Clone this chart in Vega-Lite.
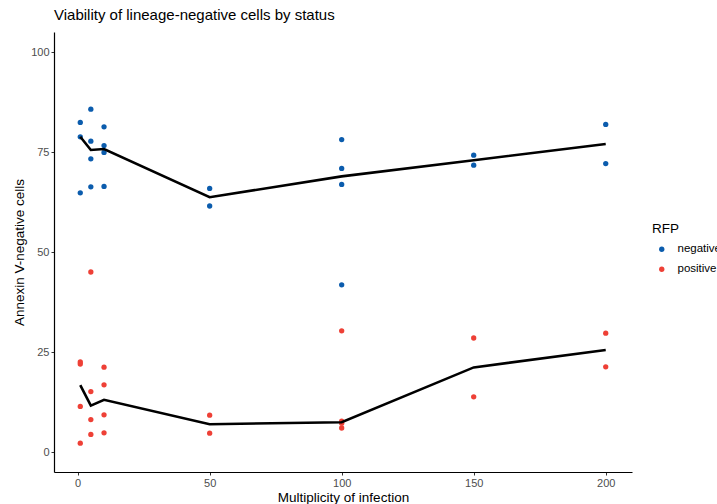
{
  "$schema": "https://vega.github.io/schema/vega-lite/v6.json",
  "autosize": "none",
  "padding": {"left": 54, "top": 32, "right": 85, "bottom": 32},
  "width": 578,
  "height": 440,
  "background": "white",
  "title": {
    "text": "Viability of lineage-negative cells by status",
    "anchor": "start",
    "frame": "group",
    "offset": 9,
    "font": "Liberation Sans",
    "fontSize": 15,
    "fontWeight": "normal",
    "color": "black"
  },
  "config": {
    "view": {"stroke": null},
    "font": "Liberation Sans"
  },
  "data": {
    "values": [
      {"moi": 1, "rfp": "negative", "v": 82.4},
      {"moi": 1, "rfp": "negative", "v": 78.8},
      {"moi": 1, "rfp": "negative", "v": 64.8},
      {"moi": 5, "rfp": "negative", "v": 85.7},
      {"moi": 5, "rfp": "negative", "v": 77.7},
      {"moi": 5, "rfp": "negative", "v": 73.3},
      {"moi": 5, "rfp": "negative", "v": 66.3},
      {"moi": 10, "rfp": "negative", "v": 81.3},
      {"moi": 10, "rfp": "negative", "v": 76.6},
      {"moi": 10, "rfp": "negative", "v": 74.9},
      {"moi": 10, "rfp": "negative", "v": 66.4},
      {"moi": 50, "rfp": "negative", "v": 65.9},
      {"moi": 50, "rfp": "negative", "v": 61.5},
      {"moi": 100, "rfp": "negative", "v": 78.1},
      {"moi": 100, "rfp": "negative", "v": 70.9},
      {"moi": 100, "rfp": "negative", "v": 66.9},
      {"moi": 100, "rfp": "negative", "v": 41.8},
      {"moi": 150, "rfp": "negative", "v": 74.2},
      {"moi": 150, "rfp": "negative", "v": 71.7},
      {"moi": 200, "rfp": "negative", "v": 81.9},
      {"moi": 200, "rfp": "negative", "v": 72.1},
      {"moi": 1, "rfp": "positive", "v": 22.5},
      {"moi": 1, "rfp": "positive", "v": 22.0},
      {"moi": 1, "rfp": "positive", "v": 11.4},
      {"moi": 1, "rfp": "positive", "v": 2.2},
      {"moi": 5, "rfp": "positive", "v": 45.0},
      {"moi": 5, "rfp": "positive", "v": 15.1},
      {"moi": 5, "rfp": "positive", "v": 8.1},
      {"moi": 5, "rfp": "positive", "v": 4.4},
      {"moi": 10, "rfp": "positive", "v": 21.2},
      {"moi": 10, "rfp": "positive", "v": 16.8},
      {"moi": 10, "rfp": "positive", "v": 9.3},
      {"moi": 10, "rfp": "positive", "v": 4.8},
      {"moi": 50, "rfp": "positive", "v": 9.2},
      {"moi": 50, "rfp": "positive", "v": 4.7},
      {"moi": 100, "rfp": "positive", "v": 30.3},
      {"moi": 100, "rfp": "positive", "v": 7.7},
      {"moi": 100, "rfp": "positive", "v": 7.2},
      {"moi": 100, "rfp": "positive", "v": 6.0},
      {"moi": 150, "rfp": "positive", "v": 28.5},
      {"moi": 150, "rfp": "positive", "v": 13.8},
      {"moi": 200, "rfp": "positive", "v": 29.7},
      {"moi": 200, "rfp": "positive", "v": 21.3}
    ]
  },
  "encoding": {
    "x": {
      "field": "moi",
      "type": "quantitative",
      "title": "Multiplicity of infection",
      "scale": {"domain": [-8.95, 209.95], "nice": false, "zero": false},
      "axis": {
        "values": [0, 50, 100, 150, 200],
        "grid": false,
        "domainColor": "black",
        "domainWidth": 1.2,
        "tickColor": "#333333",
        "tickSize": 3,
        "labelColor": "#4d4d4d",
        "labelFontSize": 11,
        "labelPadding": 2,
        "titleColor": "black",
        "titleFontSize": 13.5,
        "titleFontWeight": "normal",
        "titlePadding": 2
      }
    },
    "y": {
      "field": "v",
      "type": "quantitative",
      "title": "Annexin V-negative cells",
      "scale": {"domain": [-5, 105], "nice": false, "zero": false},
      "axis": {
        "values": [0, 25, 50, 75, 100],
        "grid": false,
        "domainColor": "black",
        "domainWidth": 1.2,
        "tickColor": "#333333",
        "tickSize": 3,
        "labelColor": "#4d4d4d",
        "labelFontSize": 11,
        "labelPadding": 2,
        "titleColor": "black",
        "titleFontSize": 13.5,
        "titleFontWeight": "normal",
        "titlePadding": 4
      }
    }
  },
  "layer": [
    {
      "mark": {"type": "point", "filled": true, "opacity": 1, "size": 28},
      "encoding": {
        "color": {
          "field": "rfp",
          "type": "nominal",
          "title": "RFP",
          "scale": {"domain": ["negative", "positive"], "range": ["#0B5CAD", "#EE4036"]},
          "legend": {
            "orient": "none",
            "legendX": 598,
            "legendY": 190,
            "titleFontSize": 13.5,
            "titleFontWeight": "normal",
            "titleColor": "black",
            "labelFontSize": 11.5,
            "labelColor": "black",
            "labelOffset": 10,
            "symbolSize": 28,
            "symbolType": "circle",
            "rowPadding": 7,
            "titlePadding": 8,
            "symbolOffset": 4
          }
        }
      }
    },
    {
      "mark": {"type": "line", "color": "black", "strokeWidth": 2.6},
      "encoding": {
        "y": {"aggregate": "median", "field": "v", "type": "quantitative"},
        "detail": {"field": "rfp", "type": "nominal"}
      }
    }
  ]
}
